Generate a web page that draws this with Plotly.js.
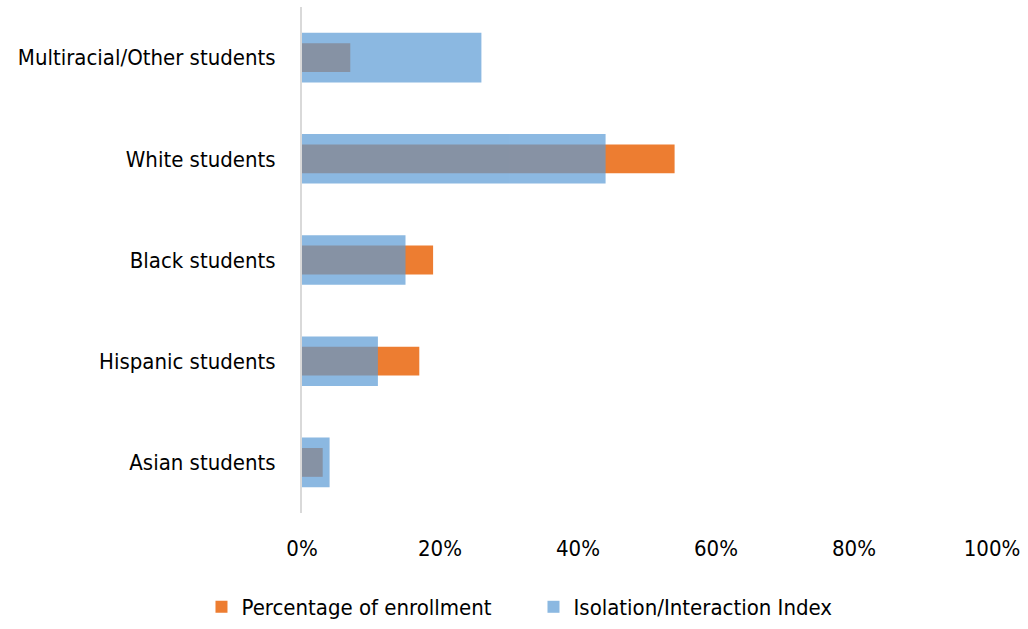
<!DOCTYPE html>
<html>
<head>
<meta charset="utf-8">
<script src="https://cdn.plot.ly/plotly-3.0.1.min.js"></script>
<style>html,body{margin:0;padding:0;background:#fff;}#chart{width:1028px;height:629px;}</style>
</head>
<body>
<div id="chart"></div>
<script>
const categories = ['Asian students', 'Hispanic students', 'Black students', 'White students', 'Multiracial/Other students'];
const enrollment = [0.03, 0.17, 0.19, 0.54, 0.07];
const isolationIndex = [0.04, 0.11, 0.15, 0.44, 0.26];
const seriesNames = ['Percentage of enrollment', 'Isolation/Interaction Index'];

const FONT = '"DejaVu Sans Condensed", "Liberation Sans Narrow", "Arial Narrow", sans-serif';

const data = [
  {
    type: 'bar', orientation: 'h', name: seriesNames[0],
    y: categories, x: enrollment, width: 0.285,
    marker: {color: '#ED7D31'}, hoverinfo: 'x+y'
  },
  {
    type: 'bar', orientation: 'h', name: seriesNames[1],
    y: categories, x: isolationIndex, width: 0.49,
    marker: {color: '#5B9BD5'}, opacity: 0.7, hoverinfo: 'x+y'
  }
];

const layout = {
  width: 1028, height: 629,
  margin: {l: 302, r: 36, t: 7, b: 116},
  paper_bgcolor: '#ffffff', plot_bgcolor: '#ffffff',
  barmode: 'overlay',
  font: {family: FONT, size: 22, color: '#000000'},
  xaxis: {
    range: [0, 1], dtick: 0.2, tick0: 0, tickformat: '.0%',
    showgrid: false, zeroline: false, showline: false,
    ticks: 'outside', ticklen: 16, tickcolor: 'rgba(0,0,0,0)',
    tickfont: {family: FONT, size: 22, color: '#000'}
  },
  yaxis: {
    type: 'category', categoryorder: 'array', categoryarray: categories,
    showgrid: false, zeroline: false,
    showline: true, linecolor: '#D9D9D9', linewidth: 2,
    ticks: 'outside', ticklen: 20, tickcolor: 'rgba(0,0,0,0)',
    tickfont: {family: FONT, size: 22, color: '#000'}
  },
  showlegend: true,
  legend: {
    orientation: 'h', xref: 'container', yref: 'container',
    x: 0.196, xanchor: 'left', y: 0.035, yanchor: 'middle',
    entrywidth: 287, entrywidthmode: 'pixels',
    font: {family: FONT, size: 22, color: '#000'},
    traceorder: 'normal', itemsizing: 'constant'
  }
};

Plotly.newPlot('chart', data, layout, {displayModeBar: false, staticPlot: true});
</script>
</body>
</html>
